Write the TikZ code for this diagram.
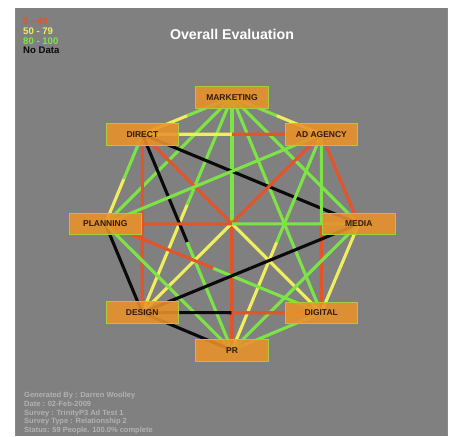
\documentclass[tikz,border=0pt]{standalone}
\usepackage{fontspec}
\setmainfont{Liberation Sans}
\usetikzlibrary{calc}
\pgfdeclarelayer{panel}
\pgfdeclarelayer{lines}
\pgfsetlayers{panel,lines,main}
\definecolor{bg}{RGB}{128,128,128}
\definecolor{lgreen}{RGB}{125,228,70}
\definecolor{lyellow}{RGB}{238,238,95}
\definecolor{lred}{RGB}{228,84,40}
\definecolor{lblack}{RGB}{10,10,10}
\definecolor{boxor}{RGB}{234,146,42}
\definecolor{boxedge}{RGB}{165,205,60}
\definecolor{frameor}{RGB}{215,110,70}
\definecolor{infogrey}{RGB}{178,178,178}
\definecolor{boxtext}{RGB}{50,28,10}
\newcommand{\halfedge}[4]{%
  \draw[conn,#3] (#1.center) -- ($(#1.center)!0.5!(#2.center)$);
  \draw[conn,#4] ($(#1.center)!0.5!(#2.center)$) -- (#2.center);}
\tikzset{
  conn/.style={line width=3.1pt, line cap=butt},
  unitbox/.style={draw=boxedge, line width=0.9pt, fill=boxor, fill opacity=0.88,
    text opacity=1, minimum width=72.5pt, minimum height=21.6pt, inner sep=0pt,
    text=boxtext, font=\bfseries\fontsize{8.5}{9}\selectfont},
  legend/.style={anchor=west, inner sep=0pt, font=\bfseries\fontsize{9.6}{10}\selectfont},
  info/.style={anchor=base west, inner sep=0pt, text=infogrey, font=\bfseries\fontsize{7.5}{8}\selectfont},
}
\begin{document}
\begin{tikzpicture}[x=1pt,y=-1pt]
\useasboundingbox (0,0) rectangle (452,436);
\begin{pgfonlayer}{panel}
  \fill[white] (0,0) rectangle (452,436);
  \fill[bg] (15,8) rectangle (448,436);
  \draw[frameor, line width=1.3pt] (15.6,8) -- (15.6,436);
  \draw[frameor, line width=1.3pt] (447.8,8) -- (447.8,436);
\end{pgfonlayer}

% title and legend
\node[text=white, font=\bfseries\fontsize{14.2}{16}\selectfont, inner sep=0pt] (title) at (232,34.5) {Overall Evaluation};
\node[legend, text=lred] (lg1) at (23,20.7) {0 - 49};
\node[legend, text=lyellow] (lg2) at (23,31.3) {50 - 79};
\node[legend, text=lgreen] (lg3) at (23,41.3) {80 - 100};
\node[legend, text=lblack] (lg4) at (23,50.7) {No Data};

% info text
\node[info] (i1) at (24,397.6) {Generated By : Darren Woolley};
\node[info] (i2) at (24,406.3) {Date : 02-Feb-2009};
\node[info] (i3) at (24,415.0) {Survey : TrinityP3 Ad Test 1};
\node[info] (i4) at (24,423.7) {Survey Type : Relationship 2};
\node[info] (i5) at (24,432.4) {Status: 59 People. 100.0\% complete};

% units
\node[unitbox] (M)  at (232,97.2)    {MARKETING};
\node[unitbox] (Di) at (142.4,134.2) {DIRECT};
\node[unitbox] (A)  at (321.4,134.2) {AD AGENCY};
\node[unitbox] (Pl) at (105.3,223.8) {PLANNING};
\node[unitbox] (Me) at (358.7,223.8) {MEDIA};
\node[unitbox] (De) at (142.2,312.6) {DESIGN};
\node[unitbox] (Dg) at (321.2,312.8) {DIGITAL};
\node[unitbox] (PR) at (232,350.2)   {PR};

\begin{pgfonlayer}{lines}
  \halfedge{M}{Di}{lgreen}{lyellow}
  \halfedge{M}{A}{lgreen}{lyellow}
  \halfedge{M}{Pl}{lgreen}{lgreen}
  \halfedge{M}{Me}{lgreen}{lgreen}
  \halfedge{M}{De}{lgreen}{lyellow}
  \halfedge{M}{Dg}{lgreen}{lgreen}
  \halfedge{M}{PR}{lgreen}{lred}
  \halfedge{Di}{A}{lyellow}{lred}
  \halfedge{Di}{Pl}{lgreen}{lyellow}
  \halfedge{Di}{Me}{lblack}{lblack}
  \halfedge{Di}{De}{lred}{lred}
  \halfedge{Di}{Dg}{lred}{lyellow}
  \halfedge{Di}{PR}{lblack}{lgreen}
  \halfedge{A}{Pl}{lgreen}{lgreen}
  \halfedge{A}{Me}{lred}{lred}
  \halfedge{A}{De}{lred}{lyellow}
  \halfedge{A}{Dg}{lgreen}{lred}
  \halfedge{A}{PR}{lgreen}{lyellow}
  \halfedge{Pl}{Me}{lred}{lgreen}
  \halfedge{Pl}{De}{lblack}{lblack}
  \halfedge{Pl}{Dg}{lred}{lgreen}
  \halfedge{Pl}{PR}{lgreen}{lgreen}
  \halfedge{Me}{De}{lblack}{lblack}
  \halfedge{Me}{Dg}{lyellow}{lyellow}
  \halfedge{Me}{PR}{lgreen}{lgreen}
  \halfedge{De}{Dg}{lblack}{lred}
  \halfedge{De}{PR}{lblack}{lblack}
  \halfedge{Dg}{PR}{lgreen}{lgreen}
\end{pgfonlayer}
\end{tikzpicture}
\end{document}
